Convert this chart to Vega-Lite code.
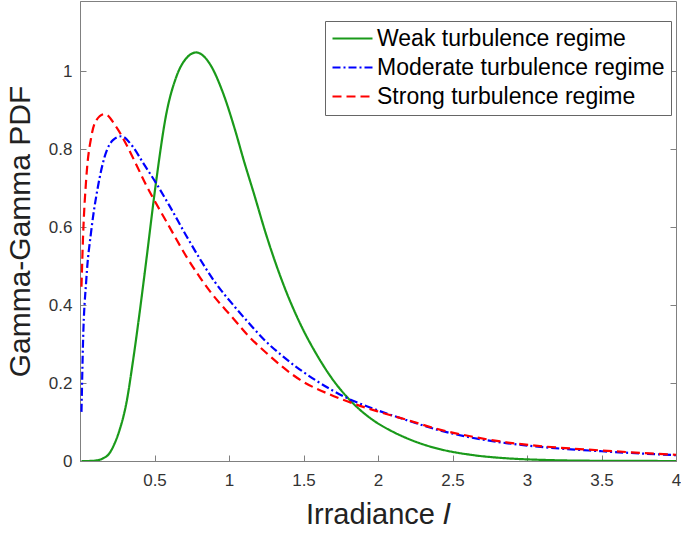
{
  "$schema": "https://vega.github.io/schema/vega-lite/v6.json",
  "autosize": "none",
  "padding": {"left": 80, "top": 1, "right": 5, "bottom": 72},
  "width": 596,
  "height": 460,
  "background": "white",
  "config": {
    "font": "Liberation Sans",
    "view": {"stroke": "#808080", "strokeWidth": 1},
    "legend": {
      "orient": "none",
      "legendX": 245,
      "legendY": 20,
      "strokeColor": "#666666",
      "fillColor": "white",
      "padding": 6,
      "symbolType": "M-1,0H3",
      "symbolSize": 400,
      "symbolStrokeWidth": 2,
      "labelFontSize": 23,
      "labelColor": "#000000",
      "labelLimit": 500,
      "labelOffset": 23,
      "rowPadding": 5
    }
  },
  "data": {
    "values": [
      {"I": 0.01, "pdf": 0, "regime": "Weak turbulence regime"},
      {"I": 0.05, "pdf": 0, "regime": "Weak turbulence regime"},
      {"I": 0.1, "pdf": 0.001, "regime": "Weak turbulence regime"},
      {"I": 0.15, "pdf": 0.006, "regime": "Weak turbulence regime"},
      {"I": 0.198, "pdf": 0.02, "regime": "Weak turbulence regime"},
      {"I": 0.23, "pdf": 0.043, "regime": "Weak turbulence regime"},
      {"I": 0.266, "pdf": 0.08, "regime": "Weak turbulence regime"},
      {"I": 0.311, "pdf": 0.148, "regime": "Weak turbulence regime"},
      {"I": 0.355, "pdf": 0.255, "regime": "Weak turbulence regime"},
      {"I": 0.4, "pdf": 0.38, "regime": "Weak turbulence regime"},
      {"I": 0.445, "pdf": 0.515, "regime": "Weak turbulence regime"},
      {"I": 0.512, "pdf": 0.72, "regime": "Weak turbulence regime"},
      {"I": 0.579, "pdf": 0.89, "regime": "Weak turbulence regime"},
      {"I": 0.646, "pdf": 0.985, "regime": "Weak turbulence regime"},
      {"I": 0.713, "pdf": 1.033, "regime": "Weak turbulence regime"},
      {"I": 0.78, "pdf": 1.048, "regime": "Weak turbulence regime"},
      {"I": 0.869, "pdf": 1.02, "regime": "Weak turbulence regime"},
      {"I": 0.959, "pdf": 0.945, "regime": "Weak turbulence regime"},
      {"I": 1.04, "pdf": 0.85, "regime": "Weak turbulence regime"},
      {"I": 1.1, "pdf": 0.77, "regime": "Weak turbulence regime"},
      {"I": 1.164, "pdf": 0.69, "regime": "Weak turbulence regime"},
      {"I": 1.254, "pdf": 0.575, "regime": "Weak turbulence regime"},
      {"I": 1.366, "pdf": 0.452, "regime": "Weak turbulence regime"},
      {"I": 1.478, "pdf": 0.352, "regime": "Weak turbulence regime"},
      {"I": 1.59, "pdf": 0.272, "regime": "Weak turbulence regime"},
      {"I": 1.7, "pdf": 0.207, "regime": "Weak turbulence regime"},
      {"I": 1.79, "pdf": 0.165, "regime": "Weak turbulence regime"},
      {"I": 1.88, "pdf": 0.131, "regime": "Weak turbulence regime"},
      {"I": 1.97, "pdf": 0.104, "regime": "Weak turbulence regime"},
      {"I": 2.1, "pdf": 0.075, "regime": "Weak turbulence regime"},
      {"I": 2.19, "pdf": 0.059, "regime": "Weak turbulence regime"},
      {"I": 2.3, "pdf": 0.043, "regime": "Weak turbulence regime"},
      {"I": 2.42, "pdf": 0.03, "regime": "Weak turbulence regime"},
      {"I": 2.64, "pdf": 0.015, "regime": "Weak turbulence regime"},
      {"I": 2.86, "pdf": 0.007, "regime": "Weak turbulence regime"},
      {"I": 3.09, "pdf": 0.003, "regime": "Weak turbulence regime"},
      {"I": 3.5, "pdf": 0.0005, "regime": "Weak turbulence regime"},
      {"I": 4.0, "pdf": 0, "regime": "Weak turbulence regime"},

      {"I": 0.01, "pdf": 0.126, "regime": "Moderate turbulence regime"},
      {"I": 0.02, "pdf": 0.3, "regime": "Moderate turbulence regime"},
      {"I": 0.042, "pdf": 0.464, "regime": "Moderate turbulence regime"},
      {"I": 0.076, "pdf": 0.592, "regime": "Moderate turbulence regime"},
      {"I": 0.12, "pdf": 0.703, "regime": "Moderate turbulence regime"},
      {"I": 0.165, "pdf": 0.78, "regime": "Moderate turbulence regime"},
      {"I": 0.221, "pdf": 0.823, "regime": "Moderate turbulence regime"},
      {"I": 0.277, "pdf": 0.833, "regime": "Moderate turbulence regime"},
      {"I": 0.355, "pdf": 0.806, "regime": "Moderate turbulence regime"},
      {"I": 0.423, "pdf": 0.765, "regime": "Moderate turbulence regime"},
      {"I": 0.512, "pdf": 0.712, "regime": "Moderate turbulence regime"},
      {"I": 0.6, "pdf": 0.655, "regime": "Moderate turbulence regime"},
      {"I": 0.713, "pdf": 0.578, "regime": "Moderate turbulence regime"},
      {"I": 0.807, "pdf": 0.517, "regime": "Moderate turbulence regime"},
      {"I": 0.9, "pdf": 0.462, "regime": "Moderate turbulence regime"},
      {"I": 1.04, "pdf": 0.395, "regime": "Moderate turbulence regime"},
      {"I": 1.142, "pdf": 0.35, "regime": "Moderate turbulence regime"},
      {"I": 1.231, "pdf": 0.313, "regime": "Moderate turbulence regime"},
      {"I": 1.366, "pdf": 0.267, "regime": "Moderate turbulence regime"},
      {"I": 1.59, "pdf": 0.205, "regime": "Moderate turbulence regime"},
      {"I": 1.79, "pdf": 0.162, "regime": "Moderate turbulence regime"},
      {"I": 1.97, "pdf": 0.134, "regime": "Moderate turbulence regime"},
      {"I": 2.19, "pdf": 0.105, "regime": "Moderate turbulence regime"},
      {"I": 2.42, "pdf": 0.078, "regime": "Moderate turbulence regime"},
      {"I": 2.64, "pdf": 0.059, "regime": "Moderate turbulence regime"},
      {"I": 2.86, "pdf": 0.046, "regime": "Moderate turbulence regime"},
      {"I": 3.04, "pdf": 0.038, "regime": "Moderate turbulence regime"},
      {"I": 3.5, "pdf": 0.025, "regime": "Moderate turbulence regime"},
      {"I": 4.0, "pdf": 0.015, "regime": "Moderate turbulence regime"},

      {"I": 0.01, "pdf": 0.447, "regime": "Strong turbulence regime"},
      {"I": 0.02, "pdf": 0.57, "regime": "Strong turbulence regime"},
      {"I": 0.042, "pdf": 0.725, "regime": "Strong turbulence regime"},
      {"I": 0.076, "pdf": 0.832, "regime": "Strong turbulence regime"},
      {"I": 0.109, "pdf": 0.874, "regime": "Strong turbulence regime"},
      {"I": 0.165, "pdf": 0.89, "regime": "Strong turbulence regime"},
      {"I": 0.243, "pdf": 0.857, "regime": "Strong turbulence regime"},
      {"I": 0.311, "pdf": 0.812, "regime": "Strong turbulence regime"},
      {"I": 0.378, "pdf": 0.76, "regime": "Strong turbulence regime"},
      {"I": 0.445, "pdf": 0.707, "regime": "Strong turbulence regime"},
      {"I": 0.49, "pdf": 0.675, "regime": "Strong turbulence regime"},
      {"I": 0.601, "pdf": 0.6, "regime": "Strong turbulence regime"},
      {"I": 0.713, "pdf": 0.525, "regime": "Strong turbulence regime"},
      {"I": 0.807, "pdf": 0.47, "regime": "Strong turbulence regime"},
      {"I": 0.869, "pdf": 0.437, "regime": "Strong turbulence regime"},
      {"I": 1.03, "pdf": 0.365, "regime": "Strong turbulence regime"},
      {"I": 1.12, "pdf": 0.325, "regime": "Strong turbulence regime"},
      {"I": 1.254, "pdf": 0.276, "regime": "Strong turbulence regime"},
      {"I": 1.478, "pdf": 0.208, "regime": "Strong turbulence regime"},
      {"I": 1.7, "pdf": 0.167, "regime": "Strong turbulence regime"},
      {"I": 1.86, "pdf": 0.144, "regime": "Strong turbulence regime"},
      {"I": 2.0, "pdf": 0.127, "regime": "Strong turbulence regime"},
      {"I": 2.19, "pdf": 0.106, "regime": "Strong turbulence regime"},
      {"I": 2.42, "pdf": 0.08, "regime": "Strong turbulence regime"},
      {"I": 2.64, "pdf": 0.062, "regime": "Strong turbulence regime"},
      {"I": 2.86, "pdf": 0.048, "regime": "Strong turbulence regime"},
      {"I": 3.04, "pdf": 0.04, "regime": "Strong turbulence regime"},
      {"I": 3.5, "pdf": 0.027, "regime": "Strong turbulence regime"},
      {"I": 4.0, "pdf": 0.016, "regime": "Strong turbulence regime"}
    ]
  },
  "resolve": {"axis": {"y": "independent"}},
  "layer": [
    {
      "mark": {"type": "line", "strokeWidth": 2.2, "interpolate": "monotone", "clip": true},
      "encoding": {
        "x": {
          "field": "I", "type": "quantitative",
          "scale": {"domain": [0, 4], "nice": false, "zero": false},
          "axis": {
            "title": "Irradiance 𝐼",
            "values": [0.5, 1, 1.5, 2, 2.5, 3, 3.5, 4],
            "format": "~g",
            "grid": false,
            "domainColor": "#808080",
            "tickColor": "#808080",
            "tickSize": -6,
            "labelPadding": 17,
            "labelFontSize": 17,
            "labelColor": "#333333",
            "labelFlush": false,
            "labelOverlap": false,
            "titleFontSize": 29,
            "titleFontWeight": "normal",
            "titleColor": "#222222",
            "titlePadding": 12
          }
        },
        "y": {
          "field": "pdf", "type": "quantitative",
          "scale": {"domain": [0, 1.18], "nice": false, "zero": true},
          "axis": {
            "title": "Gamma-Gamma PDF",
            "values": [0, 0.2, 0.4, 0.6, 0.8, 1],
            "format": "~g",
            "grid": false,
            "domainColor": "#808080",
            "tickColor": "#808080",
            "tickSize": -6,
            "labelPadding": 14,
            "labelFontSize": 17,
            "labelColor": "#333333",
            "labelFlush": false,
            "labelOverlap": false,
            "titleFontSize": 30,
            "titleFontWeight": "normal",
            "titleColor": "#222222",
            "titlePadding": 13
          }
        },
        "color": {
          "field": "regime", "type": "nominal",
          "scale": {
            "domain": ["Weak turbulence regime", "Moderate turbulence regime", "Strong turbulence regime"],
            "range": ["#1a9a1a", "#0000ff", "#ff0000"]
          },
          "legend": {"title": null}
        },
        "strokeDash": {
          "field": "regime", "type": "nominal",
          "scale": {
            "domain": ["Weak turbulence regime", "Moderate turbulence regime", "Strong turbulence regime"],
            "range": [[1, 0], [8, 3, 2, 3], [9, 5]]
          },
          "legend": {"title": null}
        }
      }
    },
    {
      "mark": {"type": "line", "opacity": 0},
      "encoding": {
        "x": {"field": "I", "type": "quantitative"},
        "y": {
          "field": "pdf", "type": "quantitative",
          "axis": {
            "orient": "right",
            "title": null,
            "values": [0, 0.2, 0.4, 0.6, 0.8, 1],
            "labels": false,
            "grid": false,
            "domain": false,
            "tickColor": "#808080",
            "tickSize": -6
          }
        },
        "detail": {"field": "regime", "type": "nominal"}
      }
    }
  ]
}
